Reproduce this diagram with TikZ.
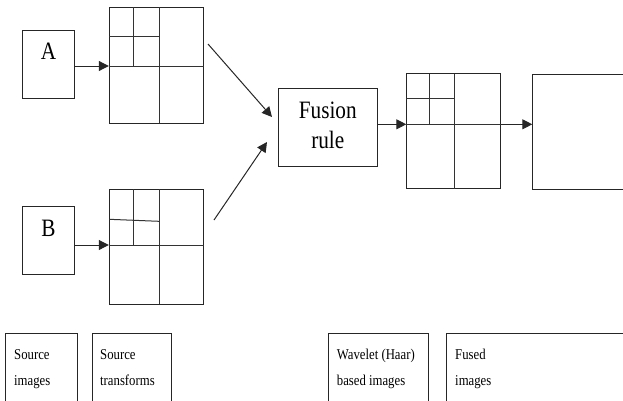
\documentclass[tikz,border=0pt]{standalone}
\usepackage{fontspec}
\setmainfont{Liberation Serif}[FakeStretch=0.85]
\usetikzlibrary{arrows.meta}
\tikzset{
  box/.style={draw=black!85, line width=1pt, rectangle, inner sep=0pt},
  grid/.style={draw=black!80, line width=1pt},
  arr/.style={draw=black!85, line width=1pt, -{Triangle[length=10pt,width=10pt]}},
  big/.style={font=\fontsize{25}{30}\selectfont, inner sep=0pt},
  small/.style={font=\fontsize{15}{26}\selectfont, inner sep=0pt, anchor=base west},
}
\begin{document}
\begin{tikzpicture}[x=1pt,y=-1pt]
\useasboundingbox (0,0) rectangle (623,400);
\clip (0,0) rectangle (623,400);
% source boxes
\node[box, minimum width=51.6pt, minimum height=68.3pt] (A) at (48.5,64.2) {};
\node[big] (Atxt) at (48.5,51.7) {A};
\node[box, minimum width=51.6pt, minimum height=68.3pt] (B) at (48.5,240.2) {};
\node[big] (Btxt) at (48.5,228) {B};
% transform A
\node[box, minimum width=94.4pt, minimum height=116pt] (TA) at (156.5,65.3) {};
\draw[grid] (159,7.3) -- (159,123.3);
\draw[grid] (109.3,66) -- (203.7,66);
\draw[grid] (133,7.3) -- (133,66);
\draw[grid] (109.3,36) -- (159,36);
% transform B
\node[box, minimum width=94.4pt, minimum height=115pt] (TB) at (156.5,246.8) {};
\draw[grid] (159,189.3) -- (159,304.3);
\draw[grid] (109.3,245) -- (203.7,245);
\draw[grid] (133,189.3) -- (133,245);
\draw[grid] (109.3,219.3) -- (159,221.3);
% fusion
\node[box, minimum width=99pt, minimum height=78.4pt] (F) at (327.8,127.5) {};
\node[big, align=center] (Ftxt) at (327.8,125.5) {Fusion\\rule};
% wavelet
\node[box, minimum width=94.4pt, minimum height=115pt] (W) at (453.5,131.2) {};
\coordinate (wm) at (406.3,124.3);
\draw[grid] (454.3,73.7) -- (454.3,188.7);
\draw[grid] (406.3,124.3) -- (500.7,124.3);
\draw[grid] (429,73.7) -- (429,124.3);
\draw[grid] (406.3,98.7) -- (454.3,98.7);
% fused
\node[box, minimum width=100pt, minimum height=115pt, anchor=north west] (Fu) at (532.3,73.7) {};
% arrows
\draw[arr] (A.east |- TA.west) ++(0,0.7) coordinate (a1) -- (a1 -| TA.west);
\draw[arr] (B.east |- TB.west) ++(0,-1.8) coordinate (b1) -- (b1 -| TB.west);
\coordinate (s1) at (208,44);
\coordinate (e1) at (272,117);
\coordinate (s2) at (214,220);
\coordinate (e2) at (267,142);
\draw[arr] (s1) -- (e1);
\draw[arr] (s2) -- (e2);
\draw[arr] (F.east |- wm) -- (wm);
\draw[arr] (W.east |- wm) -- (Fu.west |- wm);
% legend boxes
\node[box, minimum width=71.7pt, minimum height=80pt, anchor=north west] (L1) at (5,333.3) {};
\node[box, minimum width=79.3pt, minimum height=80pt, anchor=north west] (L2) at (91.7,333.3) {};
\node[box, minimum width=99.4pt, minimum height=80pt, anchor=north west] (L3) at (328.3,333.3) {};
\node[box, minimum width=190pt, minimum height=80pt, anchor=north west] (L4) at (446,333.3) {};
\node[small, align=left] (L1t) at (14,385) {Source\\images};
\node[small, align=left] (L2t) at (100,385) {Source\\transforms};
\node[small, align=left] (L3t) at (336.7,385) {Wavelet (Haar)\\based images};
\node[small, align=left] (L4t) at (455,385) {Fused\\images};
\end{tikzpicture}
\end{document}
